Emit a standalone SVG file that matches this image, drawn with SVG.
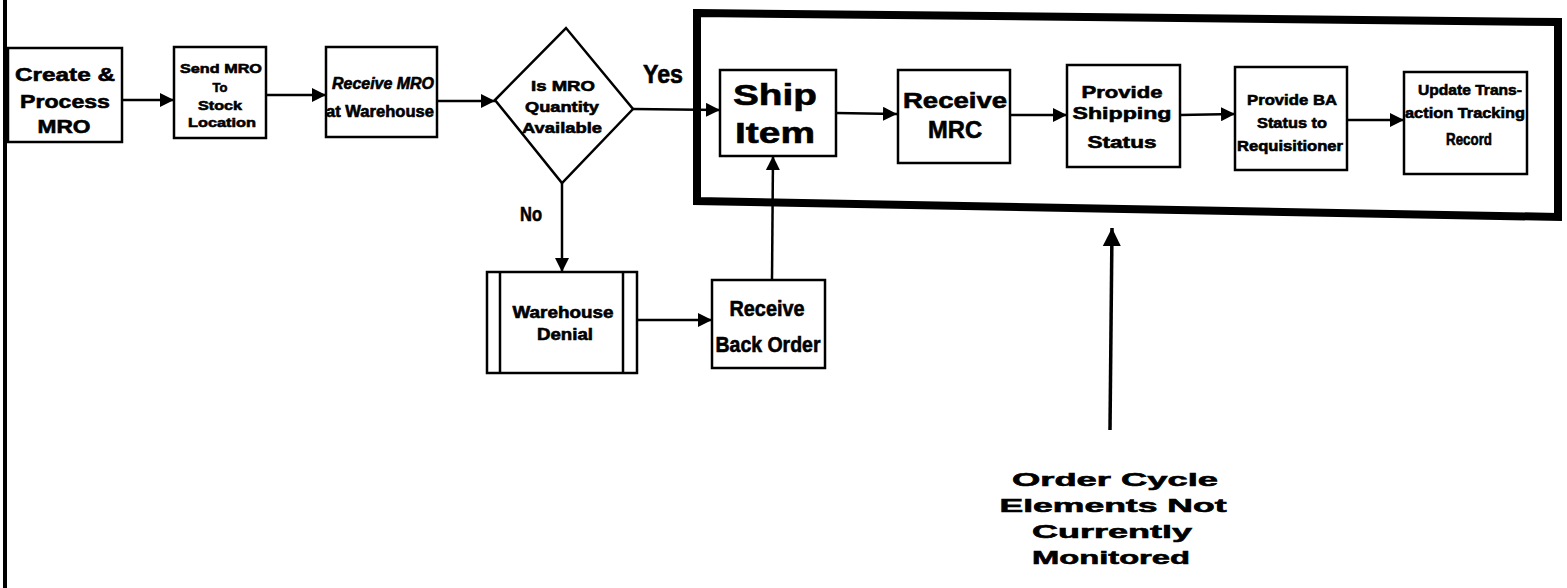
<svg xmlns="http://www.w3.org/2000/svg" width="1567" height="588" viewBox="0 0 1567 588">
<defs>
<marker id="ah" viewBox="0 0 14 14" refX="14" refY="7" markerWidth="14" markerHeight="14" markerUnits="userSpaceOnUse" orient="auto">
<path d="M0,0 L14,7 L0,14 z" fill="#000"/>
</marker>
<marker id="ahb" viewBox="0 0 20 20" refX="20" refY="10" markerWidth="18" markerHeight="20" markerUnits="userSpaceOnUse" orient="auto">
<path d="M0,0 L20,10 L0,20 z" fill="#000"/>
</marker>
</defs>
<style>
.box{fill:#fff;stroke:#000;stroke-width:2.5}
.t{font-family:"Liberation Sans",Arial,sans-serif;font-weight:bold;fill:#000;stroke:#000;stroke-width:0.6;text-anchor:middle}
.c{stroke:#000;stroke-width:2.5;fill:none;marker-end:url(#ah)}
</style>
<rect x="0" y="0" width="1567" height="588" fill="#fff"/>
<line x1="5" y1="0" x2="5" y2="588" stroke="#000" stroke-width="4"/>
<polygon id="frame" points="697,13 1558,22 1558,217 697,201" fill="none" stroke="#000" stroke-width="8" stroke-linejoin="miter"/>

<g id="connectors">
<line class="c" x1="122" y1="100" x2="174" y2="100"/>
<line class="c" x1="266" y1="95" x2="326" y2="95"/>
<line class="c" x1="437" y1="101" x2="495" y2="101"/>
<line class="c" x1="633" y1="109" x2="720" y2="110"/>
<line class="c" x1="836" y1="113" x2="897" y2="114"/>
<line class="c" x1="1010" y1="115" x2="1067" y2="115"/>
<line class="c" x1="1180" y1="115" x2="1235" y2="114"/>
<line class="c" x1="1347" y1="120" x2="1404" y2="120"/>
<line class="c" x1="562" y1="183" x2="562" y2="272"/>
<line class="c" x1="637" y1="320" x2="712" y2="320"/>
<line class="c" x1="772" y1="280" x2="773" y2="156"/>
<line x1="1110" y1="430" x2="1112" y2="228" stroke="#000" stroke-width="3.5" marker-end="url(#ahb)"/>
</g>

<g id="create">
<rect class="box" x="8" y="48" width="114" height="94"/>
<text class="t" font-size="19" x="65" y="81" textLength="100" lengthAdjust="spacingAndGlyphs">Create &amp;</text>
<text class="t" font-size="19" x="65" y="108" textLength="90" lengthAdjust="spacingAndGlyphs">Process</text>
<text class="t" font-size="19" x="64" y="133" textLength="53" lengthAdjust="spacingAndGlyphs">MRO</text>
</g>

<g id="send">
<rect class="box" x="174" y="47" width="92" height="91"/>
<text class="t" font-size="13" x="221" y="73" textLength="82" lengthAdjust="spacingAndGlyphs">Send MRO</text>
<text class="t" font-size="13" x="220" y="92">To</text>
<text class="t" font-size="13" x="220" y="110" textLength="44" lengthAdjust="spacingAndGlyphs">Stock</text>
<text class="t" font-size="13" x="222" y="127" textLength="68" lengthAdjust="spacingAndGlyphs">Location</text>
</g>

<g id="receivemro">
<rect class="box" x="326" y="47" width="111" height="90"/>
<text class="t" font-size="16" font-style="italic" x="383" y="89" textLength="102" lengthAdjust="spacingAndGlyphs">Receive MRO</text>
<text class="t" font-size="16" x="380" y="117" textLength="108" lengthAdjust="spacingAndGlyphs">at Warehouse</text>
</g>

<g id="decision">
<polygon points="495,100 566,28 633,109 562,183" fill="#fff" stroke="#000" stroke-width="2.5"/>
<text class="t" font-size="15" x="563" y="91" textLength="64" lengthAdjust="spacingAndGlyphs">Is MRO</text>
<text class="t" font-size="15" x="562" y="112" textLength="74" lengthAdjust="spacingAndGlyphs">Quantity</text>
<text class="t" font-size="15" x="562" y="133" textLength="80" lengthAdjust="spacingAndGlyphs">Available</text>
</g>

<text class="t" font-size="25" x="663" y="83" textLength="40" lengthAdjust="spacingAndGlyphs">Yes</text>
<text class="t" font-size="20" x="531" y="221" textLength="22" lengthAdjust="spacingAndGlyphs">No</text>

<g id="ship">
<rect class="box" x="720" y="70" width="116" height="86"/>
<text class="t" font-size="30" x="775" y="105" textLength="84" lengthAdjust="spacingAndGlyphs">Ship</text>
<text class="t" font-size="30" x="775" y="143" textLength="80" lengthAdjust="spacingAndGlyphs">Item</text>
</g>

<g id="receivemrc">
<rect class="box" x="898" y="70" width="112" height="93"/>
<text class="t" font-size="22" x="955" y="108" textLength="104" lengthAdjust="spacingAndGlyphs">Receive</text>
<text class="t" font-size="24" x="955" y="138" textLength="54" lengthAdjust="spacingAndGlyphs">MRC</text>
</g>

<g id="shipstatus">
<rect class="box" x="1067" y="65" width="113" height="102"/>
<text class="t" font-size="17" x="1122" y="98" textLength="81" lengthAdjust="spacingAndGlyphs">Provide</text>
<text class="t" font-size="17" x="1122" y="119" textLength="99" lengthAdjust="spacingAndGlyphs">Shipping</text>
<text class="t" font-size="17" x="1122" y="148" textLength="69" lengthAdjust="spacingAndGlyphs">Status</text>
</g>

<g id="bastatus">
<rect class="box" x="1235" y="67" width="112" height="103"/>
<text class="t" font-size="15" x="1292" y="105" textLength="90" lengthAdjust="spacingAndGlyphs">Provide BA</text>
<text class="t" font-size="15" x="1292" y="128" textLength="70" lengthAdjust="spacingAndGlyphs">Status to</text>
<text class="t" font-size="15" x="1290" y="151" textLength="106" lengthAdjust="spacingAndGlyphs">Requisitioner</text>
</g>

<g id="update">
<rect class="box" x="1404" y="72" width="123" height="102"/>
<text class="t" font-size="15" x="1470" y="95" textLength="104" lengthAdjust="spacingAndGlyphs">Update Trans-</text>
<text class="t" font-size="15" x="1465" y="118" textLength="120" lengthAdjust="spacingAndGlyphs">action Tracking</text>
<text class="t" font-size="16" x="1469" y="145" textLength="46" lengthAdjust="spacingAndGlyphs">Record</text>
</g>

<g id="denial">
<rect class="box" x="487" y="272" width="150" height="101"/>
<line x1="500" y1="272" x2="500" y2="373" stroke="#000" stroke-width="2.5"/>
<line x1="623" y1="272" x2="623" y2="373" stroke="#000" stroke-width="2.5"/>
<text class="t" font-size="16" x="563" y="318" textLength="101" lengthAdjust="spacingAndGlyphs">Warehouse</text>
<text class="t" font-size="16" x="565" y="340" textLength="56" lengthAdjust="spacingAndGlyphs">Denial</text>
</g>

<g id="backorder">
<rect class="box" x="712" y="280" width="113" height="88"/>
<text class="t" font-size="22" x="767" y="316" textLength="75" lengthAdjust="spacingAndGlyphs">Receive</text>
<text class="t" font-size="22" x="768" y="352" textLength="105" lengthAdjust="spacingAndGlyphs">Back Order</text>
</g>

<g id="note">
<text class="t" font-size="19" x="1115" y="486" textLength="206" lengthAdjust="spacingAndGlyphs">Order Cycle</text>
<text class="t" font-size="19" x="1113" y="512" textLength="227" lengthAdjust="spacingAndGlyphs">Elements Not</text>
<text class="t" font-size="19" x="1112" y="538" textLength="160" lengthAdjust="spacingAndGlyphs">Currently</text>
<text class="t" font-size="19" x="1111" y="564" textLength="158" lengthAdjust="spacingAndGlyphs">Monitored</text>
</g>
</svg>
